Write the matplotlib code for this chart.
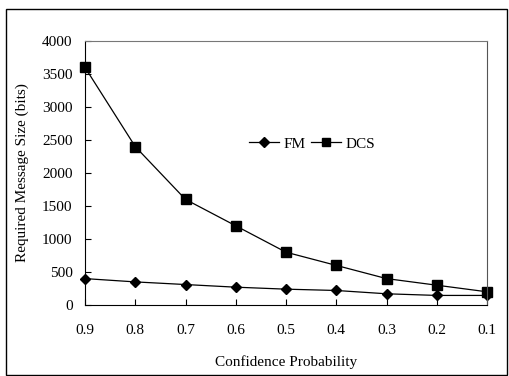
import matplotlib.pyplot as plt
from matplotlib.patches import Rectangle

# Данные с графика
probs = ['0.9', '0.8', '0.7', '0.6', '0.5', '0.4', '0.3', '0.2', '0.1']
fm = [400, 350, 310, 270, 240, 220, 170, 145, 145]
dcs = [3600, 2400, 1600, 1200, 800, 600, 400, 300, 200]

plt.rcParams['font.family'] = ['Liberation Serif', 'DejaVu Serif']
plt.rcParams['font.size'] = 11

fig = plt.figure(figsize=(5.09, 3.76), dpi=100)
ax = fig.add_axes([85 / 509, 1 - 305 / 376, (487 - 85) / 509, (305 - 41) / 376])

x = list(range(len(probs)))
ax.plot(x, fm, '-D', color='black', lw=0.9, ms=5.5, label='FM', clip_on=False)
ax.plot(x, dcs, '-s', color='black', lw=0.9, ms=7, label='DCS', clip_on=False)

ax.set_xlim(0, len(probs) - 1)
ax.set_ylim(0, 4000)
ax.set_xticks(x)
ax.set_xticklabels(probs)
ax.set_yticks(range(0, 4001, 500))
ax.tick_params(direction='in', length=4, width=0.8)
ax.tick_params(axis='x', pad=14)
ax.tick_params(axis='y', pad=9)

ax.spines['left'].set_color('black')
ax.spines['bottom'].set_color('black')
ax.spines['top'].set_color('#777777')
ax.spines['right'].set_color('#555555')

ax.set_xlabel('Confidence Probability', labelpad=13)
ax.set_ylabel('Required Message Size (bits)', labelpad=9)

ax.legend(ncol=2, frameon=False, loc='center', bbox_to_anchor=(0.565, 0.61),
          handlelength=2.0, columnspacing=0.3, handletextpad=0.3,
          markerscale=0.9)

# Рамка вокруг всей картинки
fig.patches.append(Rectangle((6 / 509, 1 / 376), 501 / 509, 366 / 376,
                             transform=fig.transFigure, fill=False,
                             edgecolor='black', lw=1))

fig.savefig('out.png', dpi=100)
